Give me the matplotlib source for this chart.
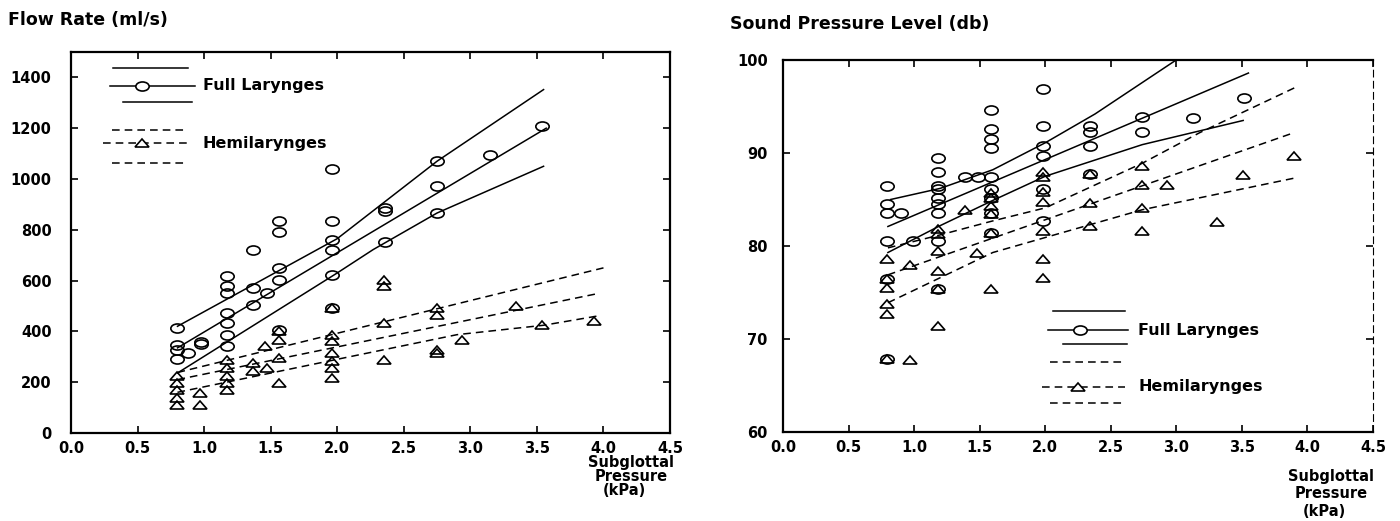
import numpy as np
import matplotlib
matplotlib.use("Agg")
import matplotlib.pyplot as plt
from matplotlib.markers import MarkerStyle
from matplotlib.transforms import Affine2D
from matplotlib.lines import Line2D

plt.rcParams['font.family'] = ['DejaVu Sans']
plt.rcParams['font.weight'] = 'bold'

# ---- flow rate (ml/s) vs subglottal pressure (kPa) ----
flow_full_cols = [0.8, 0.88, 0.98, 1.17, 1.37, 1.47, 1.56, 1.96, 2.36, 2.75, 3.15, 3.54]
flow_full_vals = [[415, 345, 325, 290], [315], [360, 350],
                  [617, 577, 551, 472, 433, 387, 341], [722, 571, 505], [551],
                  [833, 790, 650, 604, 407], [1039, 833, 761, 719, 623, 492],
                  [886, 873, 751], [1070, 971, 866], [1096], [1207]]

flow_hemi_cols = [0.8, 0.97, 1.17, 1.37, 1.46, 1.47, 1.56, 1.96, 2.35, 2.75, 2.94, 3.34, 3.54, 3.93]
flow_hemi_vals = [[223, 197, 170, 138, 111], [157, 111], [289, 256, 223, 197, 170],
                  [276, 243], [341], [256], [400, 367, 295, 197],
                  [492, 387, 361, 315, 282, 256, 217], [604, 577, 433, 289],
                  [492, 466, 328, 315], [367], [498], [426], [439]]

# regression line and its two bands
flow_full_fit_x = [0.8, 3.57]
flow_full_fit = [335, 1200]
flow_full_hi_x = [0.8, 2.0, 2.75, 3.55]
flow_full_hi = [420, 765, 1070, 1352]
flow_full_lo_x = [0.8, 2.0, 2.27, 2.75, 3.55]
flow_full_lo = [236, 630, 722, 866, 1050]

flow_hemi_fit_x = [0.8, 3.95]
flow_hemi_fit = [210, 548]
flow_hemi_hi_x = [0.8, 4.0]
flow_hemi_hi = [238, 650]
flow_hemi_lo_x = [0.8, 2.0, 2.9, 3.55, 3.95]
flow_hemi_lo = [160, 290, 387, 424, 460]

# ---- sound pressure level (dB) vs subglottal pressure (kPa) ----
spl_full_cols = [0.79, 0.9, 0.99, 1.18, 1.39, 1.49, 1.59, 1.98, 2.34, 2.74, 3.13, 3.52]
spl_full_vals = [[86.5, 84.5, 83.6, 80.5, 76.5, 67.8], [83.6], [80.5],
                 [89.5, 88.0, 86.5, 86.1, 85.2, 84.5, 83.5, 80.5, 75.4], [87.4], [87.4],
                 [94.6, 92.6, 91.5, 90.5, 87.4, 86.1, 85.2, 83.6, 81.4],
                 [96.9, 92.9, 90.8, 89.7, 86.1, 82.7], [92.9, 92.3, 90.8, 87.7],
                 [93.9, 92.3], [93.8], [95.9]]

spl_hemi_cols = [0.79, 0.97, 1.18, 1.39, 1.48, 1.59, 1.98, 2.34, 2.74, 2.93, 3.31, 3.51, 3.9]
spl_hemi_vals = [[78.6, 76.5, 75.5, 73.8, 72.7, 67.8], [78.0, 67.7],
                 [81.8, 81.3, 79.5, 77.3, 75.4, 71.4], [83.9], [79.3],
                 [85.7, 85.2, 84.3, 83.4, 81.4, 75.4],
                 [88.0, 87.4, 85.8, 84.7, 81.6, 78.6, 76.6], [87.7, 84.6, 82.1],
                 [88.6, 86.6, 84.1, 81.6], [86.6], [82.6], [87.6], [89.7]]

spl_full_fit_x = [0.8, 3.55]
spl_full_fit = [82.1, 98.6]
spl_full_hi_x = [0.82, 1.2, 1.6, 2.0, 2.38, 3.02]
spl_full_hi = [85.0, 86.2, 88.2, 91.1, 94.2, 100.2]
spl_full_lo_x = [0.8, 1.2, 1.6, 2.0, 2.74, 3.51]
spl_full_lo = [79.3, 82.2, 84.9, 87.5, 90.9, 93.5]

spl_hemi_fit_x = [0.8, 3.9]
spl_hemi_fit = [76.9, 92.2]
spl_hemi_hi_x = [0.8, 1.2, 1.6, 2.0, 2.74, 3.18, 3.9]
spl_hemi_hi = [79.8, 81.2, 82.7, 84.1, 88.9, 92.2, 97.0]
spl_hemi_lo_x = [0.8, 1.6, 2.74, 3.9]
spl_hemi_lo = [73.9, 79.3, 83.9, 87.3]

# flattened circles and triangles
circle = MarkerStyle('o', transform=Affine2D().scale(1.0, 0.68))
triangle = MarkerStyle('^', transform=Affine2D().scale(1.0, 0.6))
MS = 9.6
MEW = 1.2
DASH = (5, 3.3)


def flatten(cols, vals):
    xs, ys = [], []
    for c, v in zip(cols, vals):
        xs += [c] * len(v)
        ys += v
    return np.array(xs), np.array(ys)


def style_axes(ax, yticks, ylim):
    ax.set_xlim(0, 4.5)
    ax.set_ylim(*ylim)
    ax.set_xticks(np.arange(0, 4.51, 0.5))
    ax.set_xticklabels(['%.1f' % t for t in np.arange(0, 4.51, 0.5)])
    ax.set_yticks(yticks)
    ax.tick_params(direction='in', length=5, width=1.2, top=True, right=True,
                   labelsize=10.5, colors='black')
    for s in ax.spines.values():
        s.set_linewidth(1.6)


def plot_panel(ax, full, hemi, full_lines, hemi_lines):
    fx, fy = flatten(*full)
    hx, hy = flatten(*hemi)
    for lx, ly in full_lines:
        ax.plot(lx, ly, color='black', lw=1.1)
    for lx, ly in hemi_lines:
        ax.plot(lx, ly, color='black', lw=1.1, dashes=DASH)
    ax.plot(fx, fy, ls='none', marker=circle, ms=MS, mfc='none', mec='black', mew=MEW)
    ax.plot(hx, hy, ls='none', marker=triangle, ms=MS, mfc='none', mec='black', mew=MEW)


def draw_key(ax, rows, label, ytext, xtext, marker, dashed):
    # three stacked strokes with the symbol on the middle one
    kw = dict(color='black', lw=1.1, transform=ax.transAxes, clip_on=False)
    if dashed:
        kw['dashes'] = DASH
    for (x0, x1, y) in rows:
        ax.add_line(Line2D([x0, x1], [y, y], **kw))
    mx, my = marker[0], rows[1][2]
    ax.plot([mx], [my], transform=ax.transAxes, ls='none', marker=marker[1],
            ms=MS, mfc='white', mec='black', mew=MEW, clip_on=False)
    ax.text(xtext, ytext, label, transform=ax.transAxes, fontsize=11.5,
            va='center', ha='left')


fig = plt.figure(figsize=(14, 5.21), dpi=100)

ax1 = fig.add_axes([0.0507, 0.169, 0.4279, 0.7312])
plot_panel(ax1, (flow_full_cols, flow_full_vals), (flow_hemi_cols, flow_hemi_vals),
           [(flow_full_fit_x, flow_full_fit), (flow_full_hi_x, flow_full_hi),
            (flow_full_lo_x, flow_full_lo)],
           [(flow_hemi_fit_x, flow_hemi_fit), (flow_hemi_hi_x, flow_hemi_hi),
            (flow_hemi_lo_x, flow_hemi_lo)])
style_axes(ax1, np.arange(0, 1401, 200), (0, 1500))
ax1.tick_params(axis='y', pad=14)
ax1.tick_params(axis='x', pad=6)
draw_key(ax1, [(0.070, 0.195, 0.959), (0.065, 0.207, 0.911), (0.087, 0.202, 0.869)],
         'Full Larynges', 0.911, 0.220, (0.118, circle), False)
draw_key(ax1, [(0.068, 0.194, 0.795), (0.053, 0.195, 0.761), (0.068, 0.195, 0.709)],
         'Hemilarynges', 0.761, 0.220, (0.118, triangle), True)

ax2 = fig.add_axes([0.5593, 0.1708, 0.4214, 0.714])
plot_panel(ax2, (spl_full_cols, spl_full_vals), (spl_hemi_cols, spl_hemi_vals),
           [(spl_full_fit_x, spl_full_fit), (spl_full_hi_x, spl_full_hi),
            (spl_full_lo_x, spl_full_lo)],
           [(spl_hemi_fit_x, spl_hemi_fit), (spl_hemi_hi_x, spl_hemi_hi),
            (spl_hemi_lo_x, spl_hemi_lo)])
style_axes(ax2, np.arange(60, 101, 10), (60, 100))
ax2.tick_params(axis='y', pad=11)
ax2.tick_params(axis='x', pad=6)
ax2.spines['right'].set_linewidth(0.8)
ax2.spines['right'].set_linestyle((0, (6, 4)))
draw_key(ax2, [(0.458, 0.580, 0.326), (0.449, 0.585, 0.274), (0.475, 0.583, 0.237)],
         'Full Larynges', 0.272, 0.602, (0.503, circle), False)
draw_key(ax2, [(0.453, 0.576, 0.189), (0.439, 0.580, 0.121), (0.453, 0.580, 0.078)],
         'Hemilarynges', 0.122, 0.602, (0.500, triangle), True)

# y-axis titles sit above the panels
fig.text(0.0057, 0.9616, 'Flow Rate (ml/s)', fontsize=12.5, va='center', ha='left')
fig.text(0.5214, 0.954, 'Sound Pressure Level (db)', fontsize=12.5, va='center', ha='left')

# x-axis titles, stacked under the right end of each axis
for x, ys in [(0.4507, (0.1132, 0.0845, 0.0595)), (0.951, (0.0845, 0.0537, 0.0173))]:
    fig.text(x, ys[0], 'Subglottal', fontsize=10.5, ha='center', va='center')
    fig.text(x, ys[1], 'Pressure', fontsize=10.5, ha='center', va='center')
    fig.text(x - 0.005, ys[2], '(kPa)', fontsize=10.5, ha='center', va='center')

fig.savefig('out.png', dpi=100, facecolor='white')
